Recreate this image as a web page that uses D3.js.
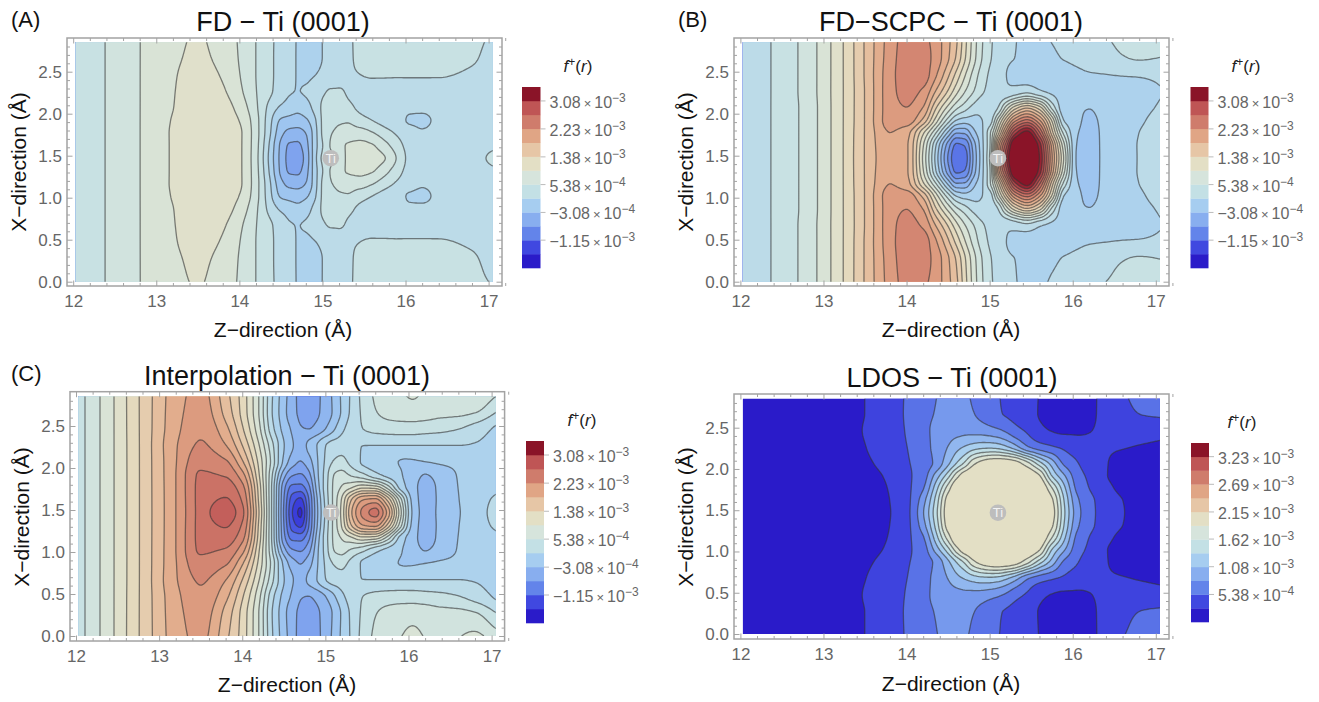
<!DOCTYPE html>
<html>
<head>
<meta charset="utf-8">
<script src="https://cdn.jsdelivr.net/npm/d3@7"></script>
<style>
  body { margin: 0; background: #fff; }
  text { font-family: "Liberation Sans", Arial, sans-serif; }
</style>
</head>
<body>
<div id="chart"></div>
<script>
// grid the values were read on: z in angstrom, distance from the Ti row in x
const zColumns = [12.03,12.4,12.8,13.2,13.5,13.8,14.0,14.2,14.35,14.5,14.6,14.7,14.8,14.9,15.0,15.1,15.2,15.3,15.45,15.6,15.75,15.9,16.05,16.2,16.4,16.6,16.8,17.05];
const xOffsets = [0,0.15,0.3,0.45,0.6,0.8,1.0,1.2,1.47];
const xCentre = 1.47;

// f+(r) in units of 1e-3, one row per x offset
const fdRows = [
  [.37,.55,.75,.99,1.14,1.13,1.0,.61,.11,-.37,-.58,-.63,-.44,0,.37,.49,.59,.79,.87,.84,.76,.52,.27,.21,.21,.23,.26,.37],
  [.37,.55,.75,.99,1.14,1.13,1.0,.62,.14,-.35,-.54,-.56,-.39,-.01,.32,.56,.68,.77,.81,.77,.62,.42,.25,.20,.20,.20,.23,.29],
  [.37,.55,.75,.99,1.13,1.12,1.0,.63,.20,-.24,-.37,-.39,-.30,-.01,.36,.53,.58,.63,.64,.56,.42,.30,.20,.14,.17,.18,.19,.18],
  [.37,.55,.75,.98,1.13,1.09,.96,.62,.23,-.12,-.17,-.19,-.13,.06,.36,.49,.52,.52,.42,.33,.25,.19,.10,.09,.15,.17,.18,.15],
  [.37,.55,.75,.96,1.12,1.06,.89,.58,.29,.08,.02,-.03,.03,.17,.36,.44,.44,.39,.29,.23,.19,.17,.15,.15,.17,.18,.18,.15],
  [.37,.55,.75,.95,1.09,.99,.80,.55,.38,.24,.14,.115,.14,.21,.29,.35,.35,.31,.26,.24,.23,.21,.21,.21,.21,.21,.20,.18],
  [.37,.55,.75,.94,1.05,.94,.76,.54,.39,.25,.17,.11,.08,.11,.15,.20,.25,.30,.33,.35,.35,.35,.35,.35,.35,.33,.30,.23],
  [.37,.55,.75,.92,1.01,.89,.74,.54,.39,.25,.17,.11,.08,.08,.12,.18,.23,.29,.36,.37,.38,.38,.38,.38,.38,.37,.35,.27],
  [.37,.55,.75,.90,.98,.85,.73,.54,.39,.26,.18,.11,.08,.09,.12,.18,.24,.30,.36,.38,.39,.40,.40,.40,.40,.40,.37,.32]
];
const scpcRows = [
  [.14,.35,.62,1.12,1.61,1.96,1.84,.92,.06,-.75,-1.11,-1.05,-.51,0,.55,2.0,3.05,3.7,3.8,3.29,2.05,.9,-.11,-.17,-.04,.02,.13,.20],
  [.14,.35,.62,1.12,1.61,1.98,1.84,.98,.14,-.63,-.99,-.93,-.45,.02,.50,1.88,2.8,3.6,3.75,3.2,1.95,.78,-.10,-.16,-.04,.04,.13,.21],
  [.14,.35,.62,1.12,1.61,2.02,1.89,1.21,.56,-.15,-.51,-.49,-.18,.06,.48,1.3,2.2,3.0,3.4,2.7,1.5,.45,-.08,-.14,-.05,.02,.12,.19],
  [.14,.35,.62,1.12,1.61,2.11,2.14,1.75,1.09,.44,.11,.02,.03,.11,.2,.85,1.55,2.15,2.5,2.05,1.15,.10,-.06,-.12,-.05,.01,.09,.18],
  [.14,.35,.62,1.12,1.61,2.13,2.23,2.01,1.42,.89,.59,.42,.26,.17,.17,.33,.85,1.28,1.58,1.28,.50,-.02,-.07,-.09,-.04,0,.06,.14],
  [.14,.35,.63,1.12,1.61,2.15,2.31,2.20,1.81,1.37,1.04,.77,.56,.38,.26,.19,.14,.18,.26,.14,.07,.02,-.02,-.04,-.04,-.01,.02,.11],
  [.14,.35,.63,1.12,1.62,2.15,2.34,2.33,2.06,1.65,1.33,1.0,.70,.46,.30,.17,.12,.06,0,-.02,-.02,.01,.06,.10,.12,.14,.15,.18],
  [.14,.35,.63,1.12,1.62,2.13,2.33,2.32,2.15,1.84,1.57,1.21,.86,.56,.36,.24,.15,.12,.07,.06,.08,.14,.19,.24,.27,.32,.35,.33],
  [.14,.35,.63,1.12,1.62,2.11,2.30,2.27,2.14,1.87,1.65,1.27,.90,.59,.38,.26,.18,.13,.09,.09,.14,.20,.25,.29,.33,.38,.42,.40]
];
const interpRows = [
  [.45,.89,1.44,2.02,2.53,2.78,2.50,1.40,.35,-.75,-1.35,-1.62,-1.0,-.35,.15,.60,1.05,1.72,2.30,2.52,1.95,.85,-.12,-.37,-.25,-.11,.03,.18],
  [.45,.89,1.44,2.02,2.52,2.68,2.42,1.35,.35,-.72,-1.25,-1.42,-.95,-.32,.18,.60,1.0,1.55,2.02,2.10,1.55,.65,-.16,-.38,-.25,-.10,.03,.15],
  [.45,.89,1.44,2.02,2.50,2.56,2.30,1.30,.35,-.65,-1.0,-1.02,-.78,-.22,.22,.58,.78,.92,1.12,1.08,.66,.05,-.22,-.38,-.24,-.09,0,.08],
  [.45,.89,1.44,2.02,2.47,2.42,2.10,1.20,.40,-.42,-.70,-.75,-.58,-.15,.20,.54,.62,.52,.38,.18,.05,-.07,-.20,-.31,-.20,-.08,0,.05],
  [.45,.89,1.44,2.01,2.38,2.27,1.85,1.12,.50,-.15,-.42,-.53,-.40,-.12,.15,.35,.40,.28,.09,0,-.04,-.10,-.12,-.10,-.06,-.04,-.02,-.01],
  [.45,.89,1.44,2.0,2.26,2.03,1.60,.98,.42,-.08,-.28,-.40,-.25,-.09,.11,.22,.24,.18,.12,.12,.12,.12,.12,.12,.12,.12,.10,.03],
  [.45,.89,1.44,1.96,2.19,1.87,1.42,.82,.22,-.17,-.34,-.50,-.52,-.45,-.31,-.13,.07,.20,.33,.40,.43,.44,.44,.42,.39,.34,.24,.09],
  [.45,.89,1.44,1.94,2.13,1.74,1.32,.75,.15,-.23,-.44,-.56,-.62,-.55,-.43,-.27,-.06,.14,.37,.53,.60,.64,.66,.64,.60,.60,.56,.34],
  [.45,.89,1.44,1.92,2.08,1.66,1.30,.75,.17,-.21,-.42,-.58,-.62,-.56,-.43,-.25,-.05,.13,.40,.58,.64,.74,.82,.74,.68,.74,.80,.64]
];
const ldosRows = [
  [.10,.12,.14,.17,.20,.265,.42,.90,1.47,2.15,2.28,2.37,2.45,2.47,2.49,2.5,2.49,2.48,2.45,2.33,2.10,1.37,.80,.55,.40,.28,.21,.19],
  [.10,.12,.14,.17,.205,.27,.42,.83,1.40,2.10,2.25,2.35,2.43,2.47,2.48,2.49,2.48,2.47,2.42,2.30,2.03,1.32,.75,.54,.39,.27,.21,.19],
  [.10,.12,.14,.17,.21,.28,.43,.68,1.23,1.88,2.20,2.29,2.36,2.42,2.45,2.46,2.45,2.43,2.36,2.23,1.78,1.17,.65,.48,.33,.22,.19,.19],
  [.10,.12,.14,.17,.22,.30,.44,.60,.99,1.47,1.88,2.14,2.24,2.29,2.32,2.33,2.32,2.30,2.23,2.0,1.33,.93,.58,.44,.28,.19,.17,.2],
  [.10,.12,.14,.17,.24,.34,.46,.58,.75,1.08,1.345,1.60,1.92,2.07,2.15,2.18,2.16,2.10,1.85,1.43,1.03,.65,.50,.38,.28,.21,.17,.18],
  [.10,.12,.14,.18,.265,.38,.48,.62,.76,.92,1.05,1.14,1.22,1.27,1.28,1.25,1.15,1.0,.72,.58,.50,.44,.38,.33,.29,.28,.26,.24],
  [.10,.12,.14,.19,.28,.38,.5,.65,.74,.82,.84,.85,.84,.82,.78,.73,.66,.56,.45,.31,.26,.235,.235,.26,.31,.33,.34,.33],
  [.10,.12,.14,.19,.27,.38,.51,.64,.71,.77,.78,.75,.71,.64,.56,.50,.47,.42,.33,.26,.21,.19,.19,.23,.33,.42,.485,.51],
  [.10,.12,.14,.19,.27,.40,.50,.61,.69,.74,.74,.72,.67,.60,.54,.49,.46,.40,.32,.265,.22,.19,.19,.23,.33,.47,.53,.54]
];

// contour levels
const fLevels = [-1.785,-1.573,-1.362,-1.15,-.939,-.727,-.516,-.304,-.093,.119,.33,.542,.753,.965,1.176,1.388,1.599,1.811,2.022,2.234,2.445,2.657,2.868,3.08,3.291];
const ldosLevels = [.269,.484,.70,.915,1.13,1.345,1.56,1.775,1.99];

// colour legend
const bandColors = ["#2a1bc9","#4048e0","#6384ea","#88aeef","#a6cdf0","#c3e0e5","#d6e4dc","#e3dfc5","#e6c6a6","#e0a585","#cf7c6c","#bf5555","#8a1428"];
const fTicks = [-1.15,-.308,.538,1.38,2.23,3.08];
const fTickMantissa = ["\u22121.15","\u22123.08","5.38","1.38","2.23","3.08"];
const fTickExponent = ["\u22123","\u22124","\u22124","\u22123","\u22123","\u22123"];
const ldosTicks = [.538,1.08,1.62,2.15,2.69,3.23];
const ldosTickMantissa = ["5.38","1.08","1.62","2.15","2.69","3.23"];
const ldosTickExponent = ["\u22124","\u22123","\u22123","\u22123","\u22123","\u22123"];

const w = 1319;
const h = 702;
const grey = "#a3a3a3";
const labelGrey = "#666";

const svg = d3.select("#chart").append("svg").attr("width", w).attr("height", h);

// monotone cubic through the read values, only used to draw smooth contours
function monotone(xs, ys) {
  const n = xs.length;
  const sec = d3.range(n - 1).map((i) => (ys[i + 1] - ys[i]) / (xs[i + 1] - xs[i]));
  const m = xs.map((_, i) => {
    if (i === 0) return sec[0];
    if (i === n - 1) return sec[n - 2];
    if (sec[i - 1] * sec[i] <= 0) return 0;
    const h0 = xs[i] - xs[i - 1];
    const h1 = xs[i + 1] - xs[i];
    return ((h0 + h1) * 3) / ((2 * h1 + h0) / sec[i - 1] + (h1 + 2 * h0) / sec[i]);
  });
  return (t) => {
    if (t <= xs[0]) return ys[0];
    if (t >= xs[n - 1]) return ys[n - 1];
    const i = d3.bisectRight(xs, t) - 1;
    const d = xs[i + 1] - xs[i];
    const s = (t - xs[i]) / d;
    return (
      (2 * s * s * s - 3 * s * s + 1) * ys[i] +
      (s * s * s - 2 * s * s + s) * d * m[i] +
      (-2 * s * s * s + 3 * s * s) * ys[i + 1] +
      (s * s * s - s * s) * d * m[i + 1]
    );
  };
}

function drawPanel(p) {
  const g = svg.append("g");
  const zScale = d3.scaleLinear().domain([12, 17]).range(p.zRange);
  const xScale = d3.scaleLinear().domain([0, 2.5]).range(p.xRange);
  const color = d3
    .scaleLinear()
    .domain(p.bandEdges.slice(1).map((d, i) => (d + p.bandEdges[i]) / 2))
    .range(bandColors)
    .clamp(true);

  // resample on a fine grid for d3.contours
  const nx = 240;
  const ny = 140;
  const z0 = 11.96;
  const dz = (17.12 - z0) / (nx - 1);
  const x0 = -0.06;
  const dx = (2.94 - x0) / (ny - 1);
  const rows = p.rows.slice(1).reverse().concat(p.rows).map((r) => monotone(zColumns, r));
  const xs = xOffsets.slice(1).reverse().map((d) => xCentre - d).concat(xOffsets.map((d) => xCentre + d));
  const values = new Float64Array(nx * ny);
  for (let i = 0; i < nx; i++) {
    const z = z0 + i * dz;
    const col = monotone(xs, rows.map((r) => r(z)));
    for (let j = 0; j < ny; j++) values[j * nx + i] = col(x0 + j * dx);
  }
  const contours = d3.contours().size([nx, ny]).thresholds(p.levels)(values);
  const path = d3.geoPath(
    d3.geoTransform({
      point(x, y) {
        this.stream.point(zScale(z0 + (x - 0.5) * dz), xScale(x0 + (y - 0.5) * dx));
      },
    })
  );

  const clipId = "clip-" + p.key;
  g.append("clipPath")
    .attr("id", clipId)
    .append("rect")
    .attr("x", zScale(12.03))
    .attr("y", xScale(2.85))
    .attr("width", zScale(17.05) - zScale(12.03))
    .attr("height", xScale(0) - xScale(2.85));

  const plot = g.append("g").attr("clip-path", `url(#${clipId})`);
  plot
    .append("rect")
    .attr("x", zScale(12))
    .attr("y", xScale(2.9))
    .attr("width", zScale(17.1) - zScale(12))
    .attr("height", xScale(-0.05) - xScale(2.9))
    .attr("fill", color((p.bandEdges[0] + p.levels[0]) / 2));
  plot
    .selectAll("path")
    .data(contours.filter((c) => c.coordinates.length))
    .enter()
    .append("path")
    .attr("d", path)
    .attr("fill", (c) => {
      const i = p.levels.indexOf(c.value);
      const top = i + 1 < p.levels.length ? p.levels[i + 1] : p.topEdge;
      return color((c.value + top) / 2);
    })
    .attr("stroke", "#333")
    .attr("stroke-opacity", 0.6)
    .attr("stroke-width", 1.3)
    .attr("stroke-linejoin", "round");

  // Ti marker
  const tiX = zScale(p.ti);
  const tiY = xScale(xCentre);
  g.append("circle").attr("cx", tiX).attr("cy", tiY).attr("r", 8.3).attr("fill", "#bdbdbd");
  g.append("text")
    .attr("x", tiX)
    .attr("y", tiY + 4.5)
    .attr("text-anchor", "middle")
    .attr("font-size", 13)
    .attr("fill", "#f2f2f2")
    .text("Ti");

  // frame with ticks on all four sides
  const frame = p.frame;
  const zMajor = [12, 13, 14, 15, 16, 17];
  const zMinor = d3.range(12, 17.21, 0.2).filter((d) => Math.abs(d - Math.round(d)) > 0.01);
  const xMajor = [0, 0.5, 1, 1.5, 2, 2.5];
  const xMinor = d3.range(0, 2.81, 0.1).filter((d) => Math.abs(d * 2 - Math.round(d * 2)) > 0.01);
  const fmt = d3.format(".1f");
  const styleAxis = (sel) => {
    sel.select(".domain").remove();
    sel.selectAll("line").attr("stroke", grey).attr("stroke-width", 1);
    sel.selectAll("text").attr("fill", labelGrey).attr("font-size", 17);
  };
  const axes = [
    [d3.axisBottom(zScale).tickValues(zMajor).tickFormat(d3.format("d")).tickSize(-5.5).tickPadding(9), `translate(0,${frame[3]})`],
    [d3.axisBottom(zScale).tickValues(zMinor).tickFormat("").tickSize(-3), `translate(0,${frame[3]})`],
    [d3.axisTop(zScale).tickValues(zMajor).tickFormat("").tickSize(-5.5), `translate(0,${frame[1]})`],
    [d3.axisTop(zScale).tickValues(zMinor).tickFormat("").tickSize(-3), `translate(0,${frame[1]})`],
    [d3.axisLeft(xScale).tickValues(xMajor).tickFormat(fmt).tickSize(-5.5).tickPadding(5), `translate(${frame[0]},0)`],
    [d3.axisLeft(xScale).tickValues(xMinor).tickFormat("").tickSize(-3), `translate(${frame[0]},0)`],
    [d3.axisRight(xScale).tickValues(xMajor).tickFormat("").tickSize(-5.5), `translate(${frame[2]},0)`],
    [d3.axisRight(xScale).tickValues(xMinor).tickFormat("").tickSize(-3), `translate(${frame[2]},0)`],
  ];
  axes.forEach(([axis, tr]) => {
    g.append("g").attr("transform", tr).call(axis).call(styleAxis);
  });
  g.append("rect")
    .attr("x", frame[0])
    .attr("y", frame[1])
    .attr("width", frame[2] - frame[0])
    .attr("height", frame[3] - frame[1])
    .attr("fill", "none")
    .attr("stroke", grey)
    .attr("stroke-width", 1.5);

  // titles and axis labels
  g.append("text")
    .attr("x", p.title[1])
    .attr("y", p.title[2])
    .attr("text-anchor", "middle")
    .attr("font-size", 27)
    .attr("fill", "#111")
    .text(p.title[0]);
  g.append("text")
    .attr("x", p.zLabel[0])
    .attr("y", p.zLabel[1])
    .attr("text-anchor", "middle")
    .attr("font-size", 21)
    .attr("fill", "#111")
    .text("Z\u2212direction (\u00c5)");
  g.append("text")
    .attr("transform", `translate(${p.xLabel[0]},${p.xLabel[1]}) rotate(-90)`)
    .attr("text-anchor", "middle")
    .attr("font-size", 21)
    .attr("fill", "#111")
    .text("X\u2212direction (\u00c5)");
  if (p.letter) {
    g.append("text")
      .attr("x", p.letter[1])
      .attr("y", p.letter[2])
      .attr("font-size", 22)
      .attr("fill", "#111")
      .text(p.letter[0]);
  }

  // legend
  const bar = p.bar;
  const legendY = d3
    .scaleLinear()
    .domain([p.bandEdges[0], p.bandEdges[p.bandEdges.length - 1]])
    .range([bar[3], bar[1]]);
  const legend = g.append("g");
  legend
    .selectAll("rect")
    .data(bandColors)
    .enter()
    .append("rect")
    .attr("x", bar[0])
    .attr("width", bar[2] - bar[0])
    .attr("y", (d, i) => legendY(p.bandEdges[i + 1]))
    .attr("height", (d, i) => legendY(p.bandEdges[i]) - legendY(p.bandEdges[i + 1]) + 0.3)
    .attr("fill", (d) => d);
  legend
    .selectAll("line")
    .data(p.ticks)
    .enter()
    .append("line")
    .attr("x1", bar[2])
    .attr("x2", bar[2] + 5)
    .attr("y1", (d) => legendY(d))
    .attr("y2", (d) => legendY(d))
    .attr("stroke", "#bbb");
  const tickText = legend
    .selectAll("text")
    .data(p.ticks)
    .enter()
    .append("text")
    .attr("x", bar[2] + 9)
    .attr("y", (d) => legendY(d) + 7)
    .attr("font-size", 16)
    .attr("fill", labelGrey);
  tickText.append("tspan").text((d, i) => p.tickMantissa[i]);
  tickText.append("tspan").attr("font-size", 13).attr("dx", 3).text("\u00d7");
  tickText.append("tspan").attr("dx", 3).text("10");
  tickText
    .append("tspan")
    .attr("font-size", 12)
    .attr("dy", -6)
    .text((d, i) => p.tickExponent[i]);

  const legendTitle = g
    .append("text")
    .attr("x", p.fLabel[0])
    .attr("y", p.fLabel[1])
    .attr("text-anchor", "middle")
    .attr("font-size", 17)
    .attr("font-style", "italic")
    .attr("fill", "#222");
  legendTitle.append("tspan").text("f");
  legendTitle.append("tspan").attr("font-size", 12).attr("dy", -6).attr("font-style", "normal").text("+");
  legendTitle.append("tspan").attr("dy", 6).attr("font-style", "normal").text("(");
  legendTitle.append("tspan").text("r");
  legendTitle.append("tspan").attr("font-style", "normal").text(")");
}

const fEdges = [-1.996].concat(d3.range(0, 13).map((i) => -1.573 + i * 0.423));
const ldosEdges = d3.range(0, 14).map((i) => i * 0.269);

drawPanel({
  key: "a", rows: fdRows, levels: fLevels, topEdge: 3.503, bandEdges: fEdges,
  zRange: [73.2, 488.6], xRange: [281.7, 71.7], frame: [67, 38, 502, 286], ti: 15.1,
  title: ["FD \u2212 Ti (0001)", 283, 31], zLabel: [283, 337], xLabel: [26, 162], letter: ["(A)", 11, 27],
  bar: [522, 87, 540.5, 268], fLabel: [578, 72],
  ticks: fTicks, tickMantissa: fTickMantissa, tickExponent: fTickExponent,
});
drawPanel({
  key: "b", rows: scpcRows, levels: fLevels, topEdge: 3.503, bandEdges: fEdges,
  zRange: [740.4, 1155.8], xRange: [281.7, 71.7], frame: [734, 38, 1169, 286], ti: 15.1,
  title: ["FD\u2212SCPC \u2212 Ti (0001)", 951, 31], zLabel: [951, 337], xLabel: [693, 162], letter: ["(B)", 678, 27],
  bar: [1190.5, 87, 1208.5, 268], fLabel: [1246, 72],
  ticks: fTicks, tickMantissa: fTickMantissa, tickExponent: fTickExponent,
});
drawPanel({
  key: "c", rows: interpRows, levels: fLevels, topEdge: 3.503, bandEdges: fEdges,
  zRange: [76, 491.6], xRange: [636, 426], frame: [70, 391.7, 504.6, 641], ti: 15.07,
  title: ["Interpolation \u2212 Ti (0001)", 287, 385], zLabel: [287, 692], xLabel: [29, 517], letter: ["(C)", 11, 381],
  bar: [526, 441, 544, 623], fLabel: [582, 426],
  ticks: fTicks, tickMantissa: fTickMantissa, tickExponent: fTickExponent,
});
drawPanel({
  key: "d", rows: ldosRows, levels: ldosLevels, topEdge: 2.05, bandEdges: ldosEdges,
  zRange: [740.4, 1155.8], xRange: [634, 427.7], frame: [734, 394, 1169, 639], ti: 15.1,
  title: ["LDOS \u2212 Ti (0001)", 952, 387], zLabel: [951, 691], xLabel: [693, 517], letter: null,
  bar: [1191, 443, 1209, 622], fLabel: [1242, 428],
  ticks: ldosTicks, tickMantissa: ldosTickMantissa, tickExponent: ldosTickExponent,
});
</script>
</body>
</html>
